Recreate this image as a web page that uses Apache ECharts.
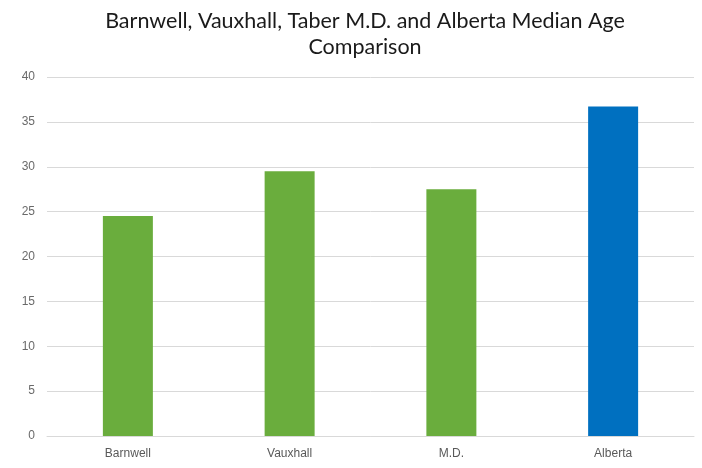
<!DOCTYPE html>
<html>
<head>
<meta charset="utf-8">
<script src="https://cdn.jsdelivr.net/npm/echarts@6/dist/echarts.min.js"></script>
<style>
  html, body { margin: 0; padding: 0; background: #ffffff; }
  #chart { width: 702px; height: 468px; }
</style>
</head>
<body>
<div id="chart"></div>
<script>
// Median age by area
const categories = ['Barnwell', 'Vauxhall', 'M.D.', 'Alberta'];
const medianAge = [24.5, 29.5, 27.5, 36.7];
const barColors = ['#6aad3d', '#6aad3d', '#6aad3d', '#0070c0'];
const yTicks = [0, 5, 10, 15, 20, 25, 30, 35, 40];

const chart = echarts.init(document.getElementById('chart'), null, { renderer: 'canvas' });

chart.setOption({
  backgroundColor: '#ffffff',
  animation: false,
  title: {
    text: 'Barnwell, Vauxhall, Taber M.D. and Alberta Median Age\nComparison',
    left: 360,
    textAlign: 'center',
    top: 3,
    textStyle: {
      fontFamily: 'Lato',
      fontWeight: 'normal',
      fontSize: 21.5,
      lineHeight: 26,
      color: '#1a1a1a'
    }
  },
  grid: { left: 47, right: 8, top: 77, bottom: 32, containLabel: false },
  xAxis: {
    type: 'category',
    data: categories,
    axisLine: { show: true, lineStyle: { color: '#d9d9d9' } },
    axisTick: { show: false },
    axisLabel: { color: '#595959', fontFamily: 'Liberation Sans', fontSize: 12, margin: 12 }
  },
  yAxis: {
    type: 'value',
    min: yTicks[0],
    max: yTicks[yTicks.length - 1],
    interval: 5,
    axisLine: { show: false },
    axisTick: { show: false },
    axisLabel: { color: '#6a6a6a', fontFamily: 'Liberation Sans', fontSize: 12, margin: 12 },
    splitLine: { lineStyle: { color: '#d9d9d9', width: 1 } }
  },
  series: [{
    type: 'bar',
    barWidth: 50,
    data: medianAge.map((v, i) => ({ value: v, itemStyle: { color: barColors[i] } }))
  }]
});
</script>
</body>
</html>
